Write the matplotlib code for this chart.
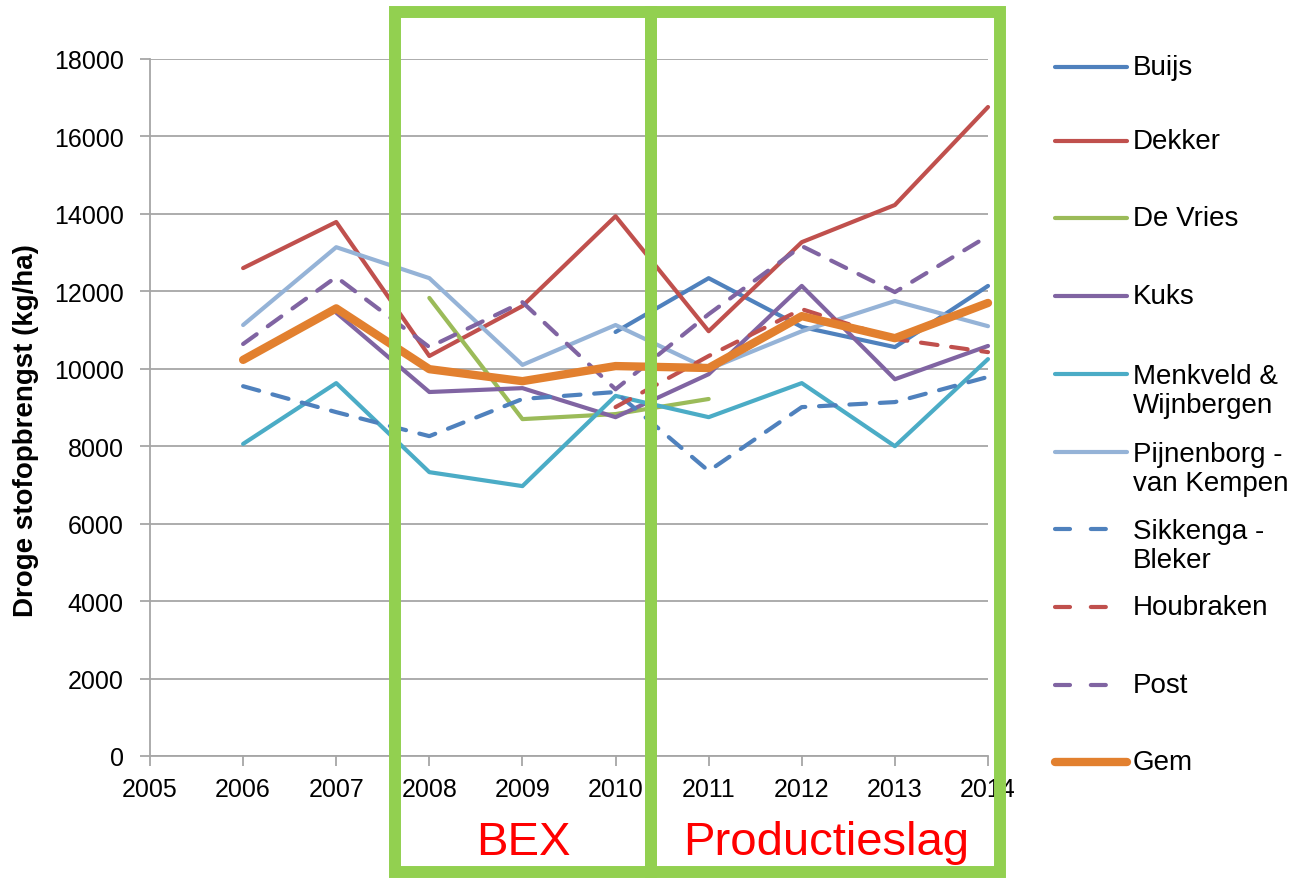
import numpy as np
import matplotlib
matplotlib.use('Agg')
import matplotlib.pyplot as plt
from matplotlib.lines import Line2D
from matplotlib.patches import Rectangle

plt.rcParams['font.family'] = ['Liberation Sans', 'DejaVu Sans']

# ------------------------- data -------------------------
years = [2006, 2007, 2008, 2009, 2010, 2011, 2012, 2013, 2014]
nan = np.nan

buijs      = [nan, nan, nan, nan, 10950, 12340, 11080, 10560, 12140]
dekker     = [12600, 13790, 10330, 11620, 13940, 10970, 13270, 14230, 16760]
de_vries   = [nan, nan, 11830, 8700, 8830, 9220, nan, nan, nan]
kuks       = [nan, 11450, 9400, 9500, 8750, 9860, 12140, 9730, 10590]
menkveld   = [8060, 9630, 7330, 6970, 9300, 8750, 9630, 8000, 10250]
pijnenborg = [11130, 13140, 12340, 10100, 11130, 9990, 10970, 11750, 11100]
sikkenga   = [9550, 8880, 8260, 9220, 9400, 7360, 9010, 9140, 9790]
houbraken  = [nan, nan, nan, nan, 9010, 10330, 11540, 10770, 10430]
post       = [10640, 12370, 10560, 11720, 9470, 11410, 13170, 11980, 13430]
gem        = [10230, 11560, 9990, 9680, 10070, 10020, 11360, 10790, 11700]

labels = ['Buijs', 'Dekker', 'De Vries', 'Kuks', 'Menkveld &\nWijnbergen',
          'Pijnenborg -\nvan Kempen', 'Sikkenga -\nBleker', 'Houbraken', 'Post', 'Gem']
series = [buijs, dekker, de_vries, kuks, menkveld, pijnenborg, sikkenga, houbraken, post, gem]
colors = ['#4F81BD', '#C0504D', '#9BBB59', '#8064A2', '#4BACC6',
          '#95B3D7', '#4F81BD', '#C0504D', '#8064A2', '#E2802F']
dashed = [False, False, False, False, False, False, True, True, True, False]
widths = [3, 3, 3, 3, 3, 3, 3, 3, 3, 6]

W, H = 1298, 879
fig = plt.figure(figsize=(W / 100, H / 100), dpi=100)
ax = fig.add_axes([150 / W, 1 - 757 / H, (988 - 150) / W, (757 - 60) / H])

for vals, c, d, lw in zip(series, colors, dashed, widths):
    line, = ax.plot(years, vals, color=c, lw=lw, clip_on=False,
                    solid_capstyle='round', dash_capstyle='round', zorder=3)
    if d:
        line.set_dashes((4, 3.3))

ax.set_xlim(2005, 2014)
ax.set_ylim(0, 18000)
ax.set_xticks(range(2005, 2015))
ax.set_yticks(range(0, 18001, 2000))
ax.grid(axis='y', color='#A6A6A6', lw=1.3)
ax.set_axisbelow(True)
for s in ['top', 'right']:
    ax.spines[s].set_visible(False)
for s in ['left', 'bottom']:
    ax.spines[s].set_color('#A6A6A6')
    ax.spines[s].set_linewidth(1.3)
ax.tick_params(axis='both', colors='#A6A6A6', labelcolor='black', labelsize=18,
               length=7, width=1.3)
ax.tick_params(axis='y', pad=12)
ax.tick_params(axis='x', pad=8)
ax.set_ylabel('Droge stofopbrengst (kg/ha)', fontsize=20, fontweight='bold')
ax.yaxis.set_label_coords(-0.1325, 0.469)

# ------------------------- legend (manual, Excel style) -------------------------
leg_y = [68, 142, 219, 297, 375, 453, 530, 608, 686, 763]
for lab, c, d, lw, y in zip(labels, colors, dashed, widths, leg_y):
    x1 = 1110 if d else 1127
    ln = Line2D([1055 / W, x1 / W], [1 - y / H, 1 - y / H], color=c, lw=lw,
                transform=fig.transFigure, solid_capstyle='round', dash_capstyle='round')
    if d:
        ln.set_dashes((3.6, 5.0))
    fig.add_artist(ln)
    n = lab.count('\n')
    fig.text(1133 / W, 1 - (y + n * 16.5) / H, lab, fontsize=20, va='center',
             ha='left', linespacing=1.15)

# ------------------------- green boxes -------------------------
for x0, x1 in [(395, 651), (651, 1000)]:
    fig.add_artist(Rectangle((x0 / W, 1 - 873 / H), (x1 - x0) / W, (873 - 13) / H,
                             transform=fig.transFigure, fill=False,
                             edgecolor='#92D050', lw=8.6, zorder=10))
fig.text(523 / W, 1 - 843 / H, 'BEX', color='red', fontsize=34, ha='center', va='center')
fig.text(826 / W, 1 - 843 / H, 'Productieslag', color='red', fontsize=34,
         ha='center', va='center')

fig.savefig('out.png', dpi=100)
